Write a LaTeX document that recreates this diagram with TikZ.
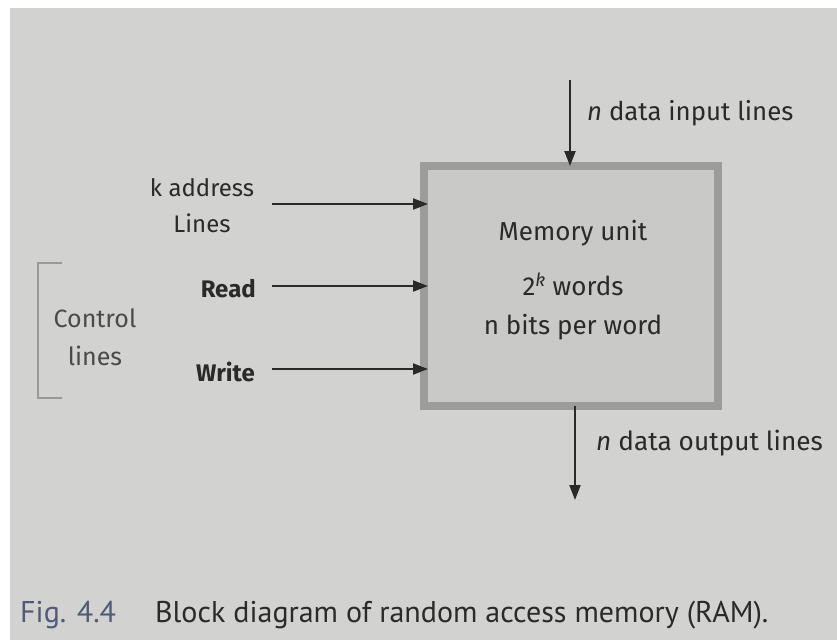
\documentclass[tikz,border=0pt]{standalone}
\usepackage{fontspec}
\setmainfont{Fira Sans}
\newfontfamily\capfont{PT Sans}
\usetikzlibrary{arrows.meta}
\definecolor{page}{HTML}{D2D2D0}
\definecolor{boxfill}{HTML}{C9C9C7}
\definecolor{boxedge}{HTML}{9C9C9A}
\definecolor{ink}{HTML}{2A2A2A}
\definecolor{figblue}{HTML}{4F5A78}
\begin{document}
\begin{tikzpicture}[x=1pt,y=-1pt,
  conn/.style={ink, line width=2.2pt, -{Triangle[length=15pt,width=11pt]}},
  lbl/.style={text=ink, font=\fontsize{24}{28}\selectfont, inner sep=0pt},
  boldlbl/.style={lbl, font=\fontsize{24}{28}\selectfont\bfseries},
  captext/.style={text=ink, font=\capfont\fontsize{30}{34}\selectfont, inner sep=0pt, anchor=base west}]
\useasboundingbox (0,0) rectangle (837,640);
\fill[page] (0,0) rectangle (837,640);
\fill[white] (0,0) rectangle (10,640);
\fill[white] (0,0) rectangle (837,8);
% memory box
\node[draw=boxedge, line width=8pt, fill=boxfill, minimum width=294pt, minimum height=240pt, inner sep=0pt] (mem) at (571,286) {};
\node[lbl, font=\fontsize{26}{30}\selectfont, align=center] (t1) at (573,233) {Memory unit};
\node[lbl, font=\fontsize{26}{30}\selectfont] (t2) at (573,284) {2\textsuperscript{\itshape k} words};
\node[lbl, font=\fontsize{26}{30}\selectfont] (t3) at (573,327) {n bits per word};
% top and bottom
\coordinate (tin) at (570,80);
\coordinate (tout) at (575,500);
\draw[conn] (tin) -- (570,166);
\draw[conn] (575,406) -- (tout);
\node[lbl, anchor=west, font=\fontsize{25.8}{30}\selectfont] (inl) at (587,113) {\textit{n} data input lines};
\node[lbl, anchor=west, font=\fontsize{26.2}{30}\selectfont] (outl) at (596,443) {\textit{n} data output lines};
% left inputs
\node[lbl, align=center, font=\fontsize{24}{36}\selectfont] (addr) at (202,206) {k address\\Lines};
\node[boldlbl, anchor=east] (rd) at (256,289) {Read};
\node[boldlbl, anchor=east] (wr) at (255,372) {Write};
\coordinate (a0) at (272,204);
\coordinate (r0) at (272,286);
\coordinate (w0) at (272,369);
\draw[conn] (a0) -- (428,204);
\draw[conn] (r0) -- (428,286);
\draw[conn] (w0) -- (428,369);
% control bracket
\draw[gray!80, line width=1.6pt] (62,263) -- (38,263) -- (38,398) -- (62,398);
\node[lbl, text=ink!85, align=center, font=\fontsize{25}{38}\selectfont] (ctl) at (95,337) {Control\\lines};
% caption
\node[captext, text=figblue] (fig) at (20,622) {Fig. 4.4};
\node[captext] (capt) at (155,622) {Block diagram of random access memory (RAM).};
\end{tikzpicture}
\end{document}
